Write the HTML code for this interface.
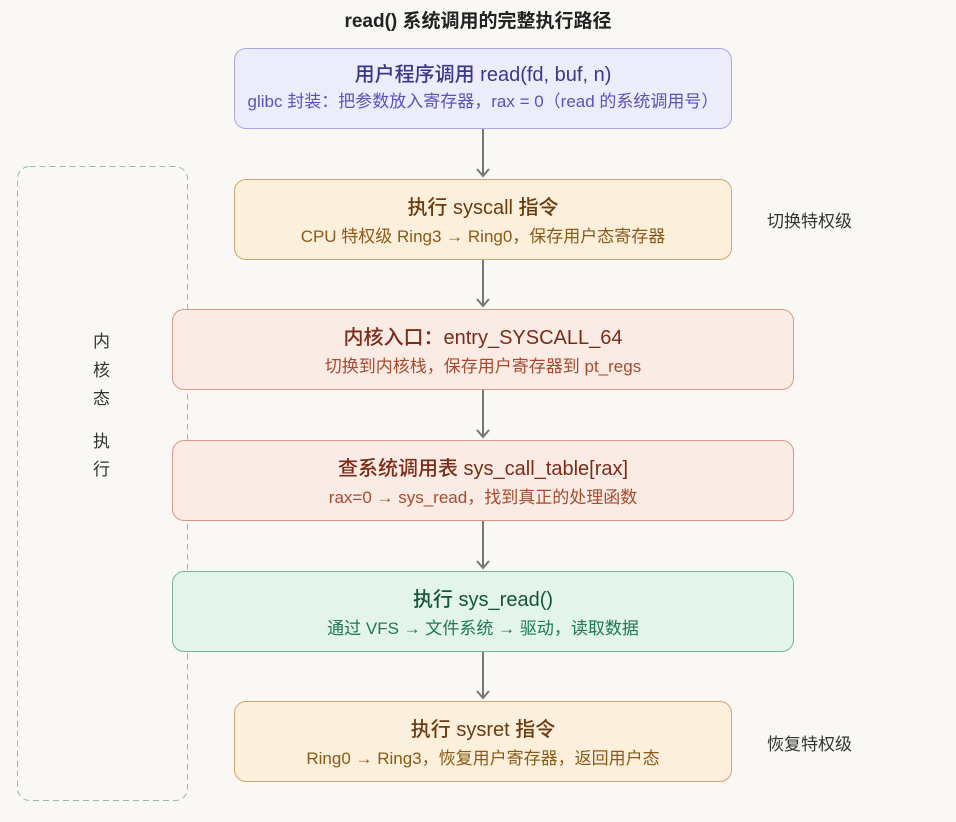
<!DOCTYPE html>
<html><head><meta charset="utf-8"><style>
body{margin:0;background:#f9f8f4;width:956px;height:822px;position:relative;overflow:hidden;font-family:"Liberation Sans","Noto Sans CJK SC",sans-serif}
.b{position:absolute;box-sizing:border-box;border:1px solid;border-radius:12px;text-align:center}
.t{font-size:20px;font-weight:500;margin-top:16px;line-height:25px}
.s{font-size:17px;margin-top:5px;line-height:21px;white-space:nowrap}
.p{background:#ececfb;border-color:#aaa6e6;color:#3a388a}.p .s{color:#5a52bf}
.o{background:#fcefdc;border-color:#d4a66c;color:#6a3c10}.o .s{color:#8c5a16}
.r{background:#fbebe5;border-color:#d99984;color:#7a2c18}.r .s{color:#a84a2e}
.g{background:#e2f4eb;border-color:#70ba98;color:#14553a}.g .s{color:#1d7a52}
.l{position:absolute;font-size:17px;color:#333}
</style></head><body>
<div class="l" style="left:0;width:956px;top:6px;text-align:center;font-size:19px;font-weight:bold;color:#222">read() 系统调用的完整执行路径</div>
<svg style="position:absolute;left:0;top:0" width="956" height="822">
<rect x="17.5" y="166.5" width="170" height="634" rx="12" fill="none" stroke="#8fbfa5" stroke-dasharray="6,4"/>
<g stroke="#777" stroke-width="2" fill="none">
<path d="M483 128V176M477 169l6 7 6-7"/>
<path d="M483 259V306M477 299l6 7 6-7"/>
<path d="M483 389V437M477 430l6 7 6-7"/>
<path d="M483 520V568M477 561l6 7 6-7"/>
<path d="M483 651V698M477 691l6 7 6-7"/>
</g></svg>
<div class="b p" style="left:234px;top:48px;width:498px;height:81px"><div class="t" style="margin-top:14px">用户程序调用 read(fd, buf, n)</div><div class="s" style="margin-top:3px;margin-left:-20px;margin-right:-20px">glibc 封装：把参数放入寄存器，rax = 0（read 的系统调用号）</div></div>
<div class="b o" style="left:234px;top:179px;width:498px;height:81px"><div class="t">执行 syscall 指令</div><div class="s">CPU 特权级 Ring3 → Ring0，保存用户态寄存器</div></div>
<div class="b r" style="left:172px;top:309px;width:622px;height:81px"><div class="t">内核入口：entry_SYSCALL_64</div><div class="s">切换到内核栈，保存用户寄存器到 pt_regs</div></div>
<div class="b r" style="left:172px;top:440px;width:622px;height:81px"><div class="t">查系统调用表 sys_call_table[rax]</div><div class="s">rax=0 → sys_read，找到真正的处理函数</div></div>
<div class="b g" style="left:172px;top:571px;width:622px;height:81px"><div class="t">执行 sys_read()</div><div class="s">通过 VFS → 文件系统 → 驱动，读取数据</div></div>
<div class="b o" style="left:234px;top:701px;width:498px;height:81px"><div class="t">执行 sysret 指令</div><div class="s">Ring0 → Ring3，恢复用户寄存器，返回用户态</div></div>
<div class="l" style="left:767px;top:207px">切换特权级</div>
<div class="l" style="left:767px;top:730px">恢复特权级</div>
<div class="l" style="left:93px;top:328px;line-height:28.5px;width:20px">内<br>核<br>态<br><span style="display:block;height:14px"></span>执<br>行</div>
</body></html>
